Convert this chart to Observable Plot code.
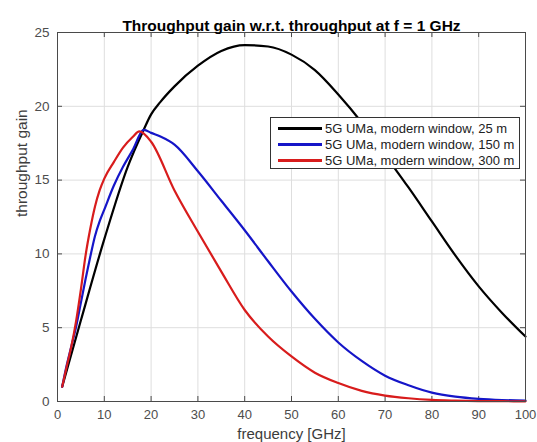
<!DOCTYPE html>
<html>
<head>
<meta charset="utf-8">
<script src="https://cdn.jsdelivr.net/npm/d3@7"></script>
<script src="https://cdn.jsdelivr.net/npm/@observablehq/plot@0.6"></script>
<style>
  html, body { margin: 0; padding: 0; background: #fff; }
  #wrap { position: relative; width: 537px; height: 442px; font-family: "Liberation Sans", Arial, sans-serif; }
  #legend { position: absolute; left: 270px; top: 117px; width: 250px; height: 52px; border: 1px solid #333; background: #fff; box-sizing: border-box; padding-top: 2px; }
  .row { display: flex; align-items: center; height: 16px; font-size: 13px; color: #222; white-space: nowrap; }
  .sw { width: 44px; height: 0; border-top: 3px solid; margin-left: 7px; margin-right: 3px; }
</style>
</head>
<body>
<div id="wrap"></div>
<script>
const title = "Throughput gain w.r.t. throughput at f = 1 GHz";
const xLabel = "frequency [GHz]";
const yLabel = "throughput gain";
const seriesNames = ["5G UMa, modern window, 25 m", "5G UMa, modern window, 150 m", "5G UMa, modern window, 300 m"];
const seriesColors = ["#000000", "#1515c8", "#d81c1c"];
const xTicks = [0, 10, 20, 30, 40, 50, 60, 70, 80, 90, 100];
const yTicks = [0, 5, 10, 15, 20, 25];

const freq25 = [1, 5, 10, 15, 18.4, 20, 22, 25, 30, 35, 40, 45, 50, 55, 60, 65, 70, 75, 80, 85, 90, 95, 100];
const gain25 = [1, 5.5, 11.0, 15.9, 18.4, 19.45, 20.3, 21.35, 22.75, 23.75, 24.15, 24.05, 23.5, 22.45, 20.8, 18.9, 16.7, 14.5, 12.2, 9.9, 7.8, 6.0, 4.4];

const freq150 = [1, 2, 3, 4, 5, 6, 7, 8, 9, 10, 12, 14, 16, 18.5, 20, 22, 25, 30, 35, 40, 45, 50, 55, 60, 65, 70, 75, 80, 85, 90, 95, 100];
const gain150 = [1, 2.5, 3.8, 5.1, 6.7, 8.3, 9.8, 11.2, 12.2, 13.0, 14.6, 15.9, 17.0, 18.4, 18.2, 17.95, 17.4, 15.6, 13.6, 11.6, 9.5, 7.45, 5.6, 4.0, 2.75, 1.75, 1.1, 0.6, 0.33, 0.18, 0.1, 0.06];

const freq300 = [1, 2, 3, 4, 5, 6, 7, 8, 9, 10, 12, 14, 16, 17.5, 20, 25, 30, 35, 40, 45, 50, 55, 60, 65, 70, 75, 80, 85, 90, 95, 100];
const gain300 = [1, 2.4, 3.8, 5.5, 7.6, 9.9, 11.7, 13.2, 14.3, 15.1, 16.2, 17.2, 17.9, 18.3, 17.6, 14.3, 11.5, 8.8, 6.2, 4.4, 3.05, 1.95, 1.25, 0.72, 0.4, 0.22, 0.11, 0.06, 0.03, 0.02, 0.01];

const series = [[freq25, gain25], [freq150, gain150], [freq300, gain300]];
const data = series.flatMap(([fs, gs], i) => fs.map((f, j) => ({f, g: gs[j], s: seriesNames[i]})));

const W = 537, H = 442, mL = 57, mR = 12, mT = 32, mB = 41;
const innerW = W - mL - mR, innerH = H - mT - mB, tl = 5;
const axisColor = "#4a4a4a", labelColor = "#3c3c3c";

const chart = Plot.plot({
  width: W, height: H,
  marginLeft: mL, marginRight: mR, marginTop: mT, marginBottom: mB,
  style: {fontFamily: "'Liberation Sans', Arial, sans-serif", fontSize: "13px", background: "#fff"},
  x: {domain: [0, 100]},
  y: {domain: [0, 25]},
  color: {domain: seriesNames, range: seriesColors},
  marks: [
    Plot.gridX(xTicks, {stroke: "#dedede", strokeOpacity: 1}),
    Plot.gridY(yTicks, {stroke: "#dedede", strokeOpacity: 1}),
    Plot.tickX(xTicks, {x: d => d, stroke: axisColor, insetTop: innerH - tl}),
    Plot.tickX(xTicks, {x: d => d, stroke: axisColor, insetBottom: innerH - tl}),
    Plot.tickY(yTicks, {y: d => d, stroke: axisColor, insetRight: innerW - tl}),
    Plot.tickY(yTicks, {y: d => d, stroke: axisColor, insetLeft: innerW - tl}),
    Plot.line(data, {x: "f", y: "g", z: "s", stroke: "s", strokeWidth: 2.2, curve: "monotone-x"}),
    Plot.frame({stroke: axisColor}),
    Plot.axisX(xTicks, {tickSize: 0, tickPadding: 5, dy: 3, label: null, fill: "#4d4d4d", fontSize: 13}),
    Plot.axisY(yTicks, {tickSize: 0, tickPadding: 8, label: null, fill: "#4d4d4d", fontSize: 13.5}),
    Plot.text([xLabel], {text: d => d, frameAnchor: "bottom", dy: 37.5, fill: labelColor, fontSize: 15}),
    Plot.text([yLabel], {text: d => d, frameAnchor: "left", dx: -35, rotate: -90, fill: labelColor, fontSize: 15.5}),
    Plot.text([title], {text: d => d, frameAnchor: "top", dy: -13, fill: "#000", fontSize: 15.5, fontWeight: "bold"})
  ]
});

const wrap = document.getElementById("wrap");
wrap.appendChild(chart);
const legend = document.createElement("div");
legend.id = "legend";
seriesNames.forEach((name, i) => {
  const row = document.createElement("div");
  row.className = "row";
  const sw = document.createElement("span");
  sw.className = "sw";
  sw.style.borderTopColor = seriesColors[i];
  const t = document.createElement("span");
  t.textContent = name;
  row.appendChild(sw); row.appendChild(t);
  legend.appendChild(row);
});
wrap.appendChild(legend);
</script>
</body>
</html>
